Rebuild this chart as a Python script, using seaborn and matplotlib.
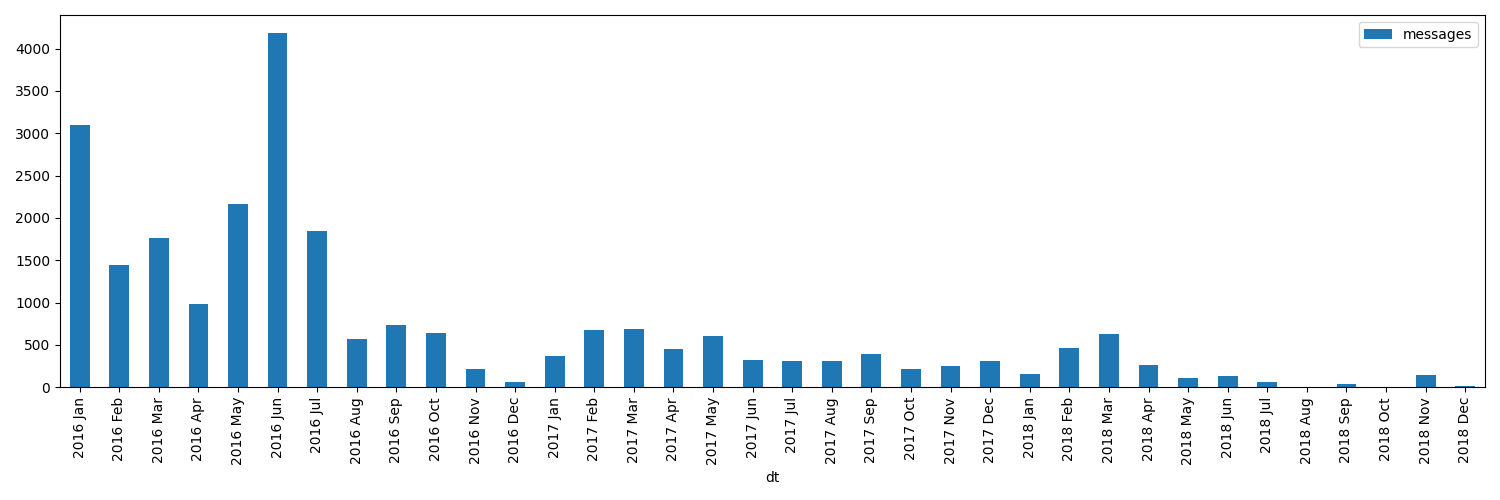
import matplotlib
matplotlib.use("Agg")
import matplotlib.pyplot as plt
import seaborn as sns
import pandas as pd

months = ["Jan", "Feb", "Mar", "Apr", "May", "Jun", "Jul", "Aug", "Sep", "Oct", "Nov", "Dec"]
years = ["2016", "2017", "2018"]
labels = [f"{y} {m}" for y in years for m in months]

messages_2016 = [3100, 1443, 1763, 982, 2165, 4188, 1846, 568, 738, 643, 217, 63]
messages_2017 = [371, 679, 690, 454, 608, 323, 312, 312, 395, 217, 252, 312]
messages_2018 = [154, 462, 627, 260, 107, 130, 59, 0, 36, 0, 142, 12]
messages = messages_2016 + messages_2017 + messages_2018

df = pd.DataFrame({"dt": labels, "messages": messages})

plt.rcParams["font.family"] = ["DejaVu Sans"]
fig, ax = plt.subplots(figsize=(15, 5), dpi=100)
sns.barplot(data=df, x="dt", y="messages", color="#1f77b4", width=0.5,
            saturation=1, label="messages", ax=ax)
ax.set_xlim(-0.5, len(labels) - 0.5)
ax.set_ylabel("")
ax.set_xlabel("dt")
ax.tick_params(axis="x", rotation=90)
ax.legend(loc="upper right")
fig.tight_layout()
fig.savefig("out.png")
